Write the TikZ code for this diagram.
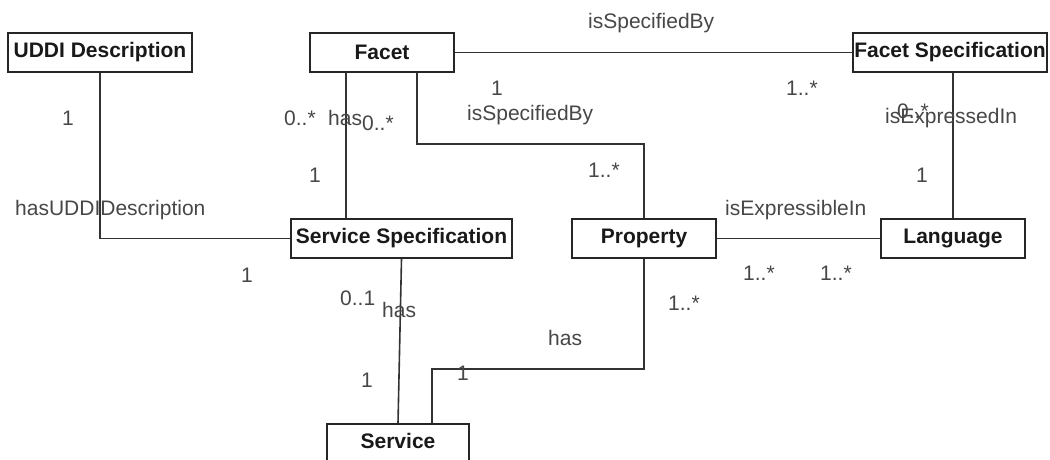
\documentclass[tikz,border=0pt]{standalone}
\usepackage{fontspec}
\setmainfont{Liberation Sans}
\begin{document}
\begin{tikzpicture}[x=1pt,y=-1pt,
  cls/.style={draw=black!85, line width=1.6pt, fill=white, font=\fontsize{21}{25}\selectfont\bfseries, inner sep=0pt, minimum height=39pt, text=black!90},
  lbl/.style={anchor=base west, inner sep=0pt, font=\fontsize{21}{25}\selectfont, text=black!72},
  conn/.style={draw=black!80, line width=1.6pt}]
\useasboundingbox (0,0) rectangle (1050,459);
\clip (0,0) rectangle (1050,459);
\fill[white] (0,0) rectangle (1050,459);
% classes
\node[cls, minimum width=184pt] (uddi) at (100,52.5) {UDDI Description};
\node[cls, minimum width=144pt] (facet) at (382,52.5) {Facet};
\node[cls, minimum width=194pt] (fspec) at (950,52.5) {Facet Specification};
\node[cls, minimum width=221pt] (ss) at (401.5,238.5) {Service Specification};
\node[cls, minimum width=144pt] (prop) at (644,238.5) {Property};
\node[cls, minimum width=144pt] (lang) at (953,238.5) {Language};
\node[cls, minimum width=142pt, text depth=5pt] (service) at (398,443.5) {Service};
% connectors
\draw[conn] (uddi.south) |- (ss.west);
\draw[conn] (facet.east) -- (fspec.west);
\draw[conn] ([xshift=37pt]facet.south west) -- ([xshift=37pt]facet.south west |- ss.north);
\draw[conn] ([xshift=108pt]facet.south west) -- ++(0,71) -| (prop.north);
\draw[conn] (lang.north |- fspec.south) -- (lang.north);
\draw[conn] (prop.east) -- (lang.west);
\draw[conn] (ss.south) -- (service.north);
\draw[conn] (prop.south) -- ++(0,110) -| ([xshift=106pt]service.north west);
% labels
\node[lbl] (l1) at (588,28) {isSpecifiedBy};
\node[lbl] (l2) at (491,95) {1};
\node[lbl] (l3) at (467,120) {isSpecifiedBy};
\node[lbl] (l4) at (786,95) {1..*};
\node[lbl] (l5) at (885,123) {isExpressedIn};
\node[lbl] (l6) at (897,118) {0..*};
\node[lbl] (l7) at (62,125) {1};
\node[lbl] (l8) at (284,125) {0..*};
\node[lbl] (l9) at (328,125) {has};
\node[lbl] (l10) at (362,130) {0..*};
\node[lbl] (l11) at (309,182) {1};
\node[lbl] (l12) at (15,215) {hasUDDIDescription};
\node[lbl] (l13) at (241,282) {1};
\node[lbl] (l14) at (340,305) {0..1};
\node[lbl] (l15) at (382,317) {has};
\node[lbl] (l16) at (588,177) {1..*};
\node[lbl] (l17) at (668,310) {1..*};
\node[lbl] (l18) at (725,215) {isExpressibleIn};
\node[lbl] (l19) at (916,182) {1};
\node[lbl] (l20) at (743,280) {1..*};
\node[lbl] (l21) at (820,280) {1..*};
\node[lbl] (l22) at (548,345) {has};
\node[lbl] (l23) at (361,387) {1};
\node[lbl] (l24) at (457,380) {1};
\end{tikzpicture}
\end{document}
